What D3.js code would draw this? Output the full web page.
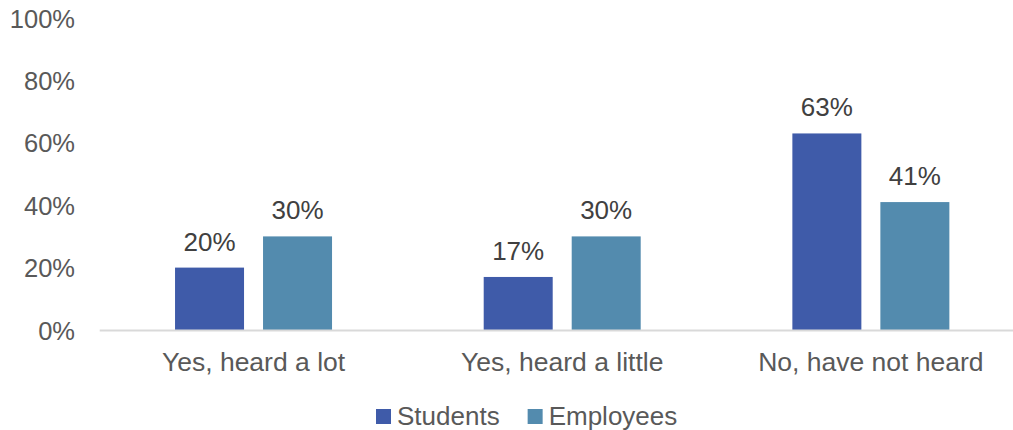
<!DOCTYPE html>
<html>
<head>
<meta charset="utf-8">
<script src="https://cdn.jsdelivr.net/npm/d3@7"></script>
<style>
  html, body { margin: 0; padding: 0; background: #fff; }
  svg { display: block; font-family: "Liberation Sans", Arial, sans-serif; }
</style>
</head>
<body>
<svg id="chart" width="1013" height="430"></svg>
<script>
// Survey responses: share of each group that had heard of the topic
const categories = ["Yes, heard a lot", "Yes, heard a little", "No, have not heard"];
const seriesNames = ["Students", "Employees"];
const students = [0.20, 0.17, 0.63];
const employees = [0.30, 0.30, 0.41];
const yTicks = [0, 0.2, 0.4, 0.6, 0.8, 1.0];
const colors = ["#3f5ba9", "#538bae"];

const svg = d3.select("#chart");
const fontFamily = "Liberation Sans, Arial, sans-serif";
const pct = d3.format(".0%");

const rows = categories.map((c, i) => ({
  category: c,
  values: [students[i], employees[i]]
}));

const x0 = d3.scaleBand().domain(categories).range([99.2, 1025.2]).padding(0);
const step = 88, barW = 69;
const pInner = (step - barW) / step;
const pOuter = (x0.bandwidth() / step - (2 - pInner)) / 2;
const x1 = d3.scaleBand().domain(seriesNames).range([0, x0.bandwidth()])
  .paddingInner(pInner).paddingOuter(pOuter);
const y = d3.scaleLinear().domain([0, 1]).range([330, 18]);
const color = d3.scaleOrdinal().domain(seriesNames).range(colors);

// Y axis labels (no axis line, no gridlines)
const yAxis = d3.axisLeft(y).tickValues(yTicks).tickFormat(pct).tickSize(0).tickPadding(0);
const gy = svg.append("g").attr("transform", "translate(75,0)").call(yAxis);
gy.select(".domain").remove();
gy.selectAll("text")
  .attr("fill", "#595959")
  .attr("font-size", 25.5)
  .attr("font-family", fontFamily)
  .attr("dy", null)
  .attr("dominant-baseline", "central");

// Bars
const groups = svg.append("g").selectAll("g")
  .data(rows).join("g")
  .attr("transform", d => `translate(${x0(d.category)},0)`);

groups.selectAll("rect")
  .data(d => d.values.map((v, j) => ({ name: seriesNames[j], value: v })))
  .join("rect")
  .attr("x", d => x1(d.name))
  .attr("width", x1.bandwidth())
  .attr("y", d => y(d.value))
  .attr("height", d => y(0) - y(d.value))
  .attr("fill", d => color(d.name));

groups.selectAll("text.value")
  .data(d => d.values.map((v, j) => ({ name: seriesNames[j], value: v })))
  .join("text")
  .attr("class", "value")
  .attr("x", d => x1(d.name) + x1.bandwidth() / 2)
  .attr("y", d => y(d.value) - 17)
  .attr("text-anchor", "middle")
  .attr("fill", "#404040")
  .attr("font-size", 26)
  .text(d => pct(d.value));

// Category axis along the baseline
const xAxis = d3.axisBottom(x0).tickSize(0).tickPadding(0);
const gx = svg.append("g").attr("transform", `translate(0,${y(0)})`).call(xAxis);
gx.select(".domain").attr("stroke", "#d9d9d9").attr("stroke-width", 2);
gx.selectAll("text")
  .attr("fill", "#595959")
  .attr("font-size", 26.5)
  .attr("font-family", fontFamily)
  .attr("dy", null)
  .attr("y", 41);

// Legend
const legend = svg.append("g").attr("transform", "translate(376,0)");
let lx = 0;
seriesNames.forEach((name, i) => {
  const item = legend.append("g").attr("transform", `translate(${lx},0)`);
  item.append("rect")
    .attr("x", 0).attr("y", 409).attr("width", 15).attr("height", 15)
    .attr("fill", color(name));
  const t = item.append("text")
    .attr("x", 21).attr("y", 425)
    .attr("fill", "#595959")
    .attr("font-size", 26)
    .text(name);
  lx += 21 + t.node().getComputedTextLength() + 28;
});
</script>
</body>
</html>
